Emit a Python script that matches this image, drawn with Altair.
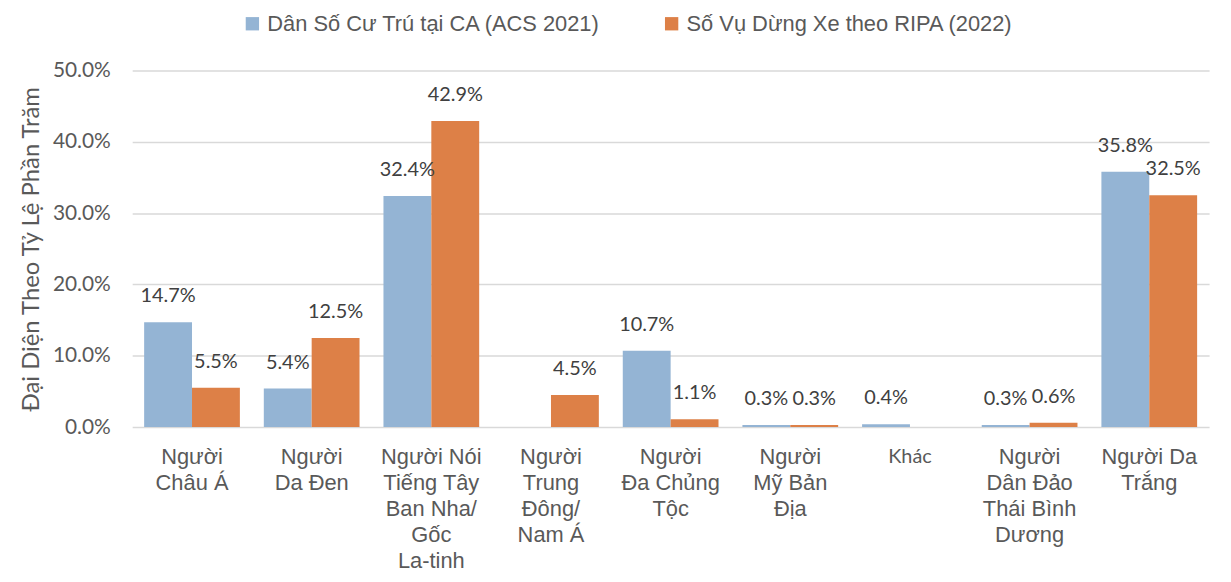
import altair as alt
import pandas as pd

categories = [
    "Người|Châu Á",
    "Người|Da Đen",
    "Người Nói|Tiếng Tây|Ban Nha/|Gốc|La-tinh",
    "Người|Trung|Đông/|Nam Á",
    "Người|Đa Chủng|Tộc",
    "Người|Mỹ Bản|Địa",
    "Khác",
    "Người|Dân Đảo|Thái Bình|Dương",
    "Người Da|Trắng",
]
series_names = ["Dân Số Cư Trú tại CA (ACS 2021)", "Số Vụ Dừng Xe theo RIPA (2022)"]
acs_2021 = [14.7, 5.4, 32.4, None, 10.7, 0.3, 0.4, 0.3, 35.8]
ripa_2022 = [5.5, 12.5, 42.9, 4.5, 1.1, 0.3, None, 0.6, 32.5]
colors = ["#94B4D4", "#DD8047"]

rows = []
for s, vals in zip(series_names, [acs_2021, ripa_2022]):
    for c, v in zip(categories, vals):
        if v is not None:
            rows.append({"cat": c, "series": s, "value": v / 100.0})
df = pd.DataFrame(rows)

FONT_NUM = "Lato"
FONT_CAT = "Liberation Sans"

x_enc = alt.X(
    "cat:N",
    sort=categories,
    scale=alt.Scale(paddingInner=0.2, paddingOuter=0.1),
    axis=alt.Axis(
        title=None,
        labelAngle=0,
        labelExpr="split(datum.label, '|')",
        labelFont={"condition": {"test": "datum.label == 'Khác'", "value": FONT_NUM}, "value": FONT_CAT},
        labelFontSize={"condition": {"test": "datum.label == 'Khác'", "value": 20}, "value": 22},
        labelLineHeight=26,
        labelColor="#595959",
        labelPadding=20,
        labelLimit=0,
        domain=False,
        ticks=False,
        labelBaseline="top",
    ),
)
xoff = alt.XOffset("series:N", sort=series_names, scale=alt.Scale(paddingInner=0, paddingOuter=0))

base = alt.Chart(df)

bars = base.mark_bar().encode(
    x=x_enc,
    xOffset=xoff,
    y=alt.Y(
        "value:Q",
        scale=alt.Scale(domain=[0, 0.5], nice=False),
        axis=alt.Axis(
            title="Đại Diện Theo Tỷ Lệ Phần Trăm",
            titleFont=FONT_NUM,
            titleFontSize=24,
            titleFontWeight="normal",
            titleColor="#595959",
            titlePadding=9,
            format=".1%",
            values=[0, 0.1, 0.2, 0.3, 0.4, 0.5],
            labelFont=FONT_NUM,
            labelFontSize=21,
            labelColor="#595959",
            labelPadding=22,
            domain=False,
            ticks=False,
            grid=True,
            gridColor="#d9d9d9",
            gridWidth=1.5,
        ),
    ),
    color=alt.Color(
        "series:N",
        sort=series_names,
        scale=alt.Scale(domain=series_names, range=colors),
        legend=alt.Legend(
            title=None,
            orient="none",
            direction="horizontal",
            legendX=110,
            legendY=-58,
            symbolType="square",
            symbolSize=180,
            symbolStrokeWidth=0,
            labelFont=FONT_CAT,
            labelFontSize=22,
            labelColor="#595959",
            columnPadding=60,
            labelLimit=0,
        ),
    ),
)

labels = base.mark_text(
    baseline="middle", dy=-26, font=FONT_NUM, fontSize=20, color="#404040"
).encode(
    x=alt.X("cat:N", sort=categories),
    xOffset=xoff,
    y="value:Q",
    text=alt.Text("value:Q", format=".1%"),
)

chart = (
    alt.layer(bars, labels)
    .properties(
        width=1084,
        height=359,
        autosize=alt.AutoSizeParams(type="none"),
        padding={"left": 125, "top": 61, "right": 14, "bottom": 145},
    )
    .configure_view(stroke=None)
)

chart.save("out.html", embed_options={"renderer": "svg", "actions": False})
